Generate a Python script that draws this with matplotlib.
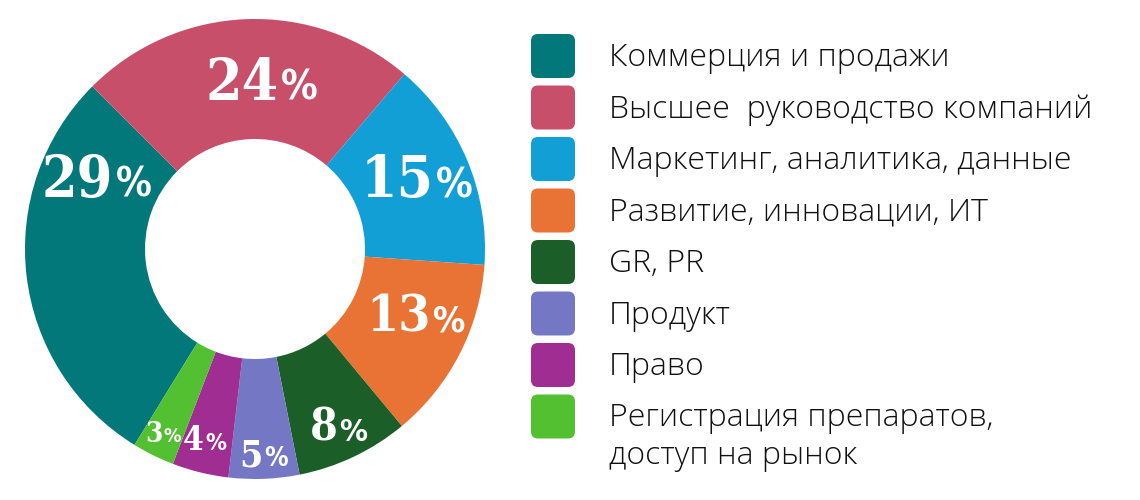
import matplotlib
matplotlib.use("Agg")
import matplotlib.pyplot as plt
from matplotlib.patches import FancyBboxPatch
from matplotlib.offsetbox import TextArea, HPacker, AnnotationBbox
import numpy as np

# ---- data ----
categories = [
    "Коммерция и продажи",
    "Высшее  руководство компаний",
    "Маркетинг, аналитика, данные",
    "Развитие, инновации, ИТ",
    "GR, PR",
    "Продукт",
    "Право",
    "Регистрация препаратов,\nдоступ на рынок",
]
values = [29, 24, 15, 13, 8, 5, 4, 3]
colors = ["#02787A", "#C84F69", "#129FD6", "#E87335", "#1C5E27", "#7478C4", "#9F2D92", "#52C030"]

# ---- label styling (positions relative to wedge) ----
label_sizes = [41, 42, 42, 37, 32, 27, 24, 20]
label_radius = [0.75, 0.72, 0.76, 0.76, 0.86, 0.90, 0.86, 0.90]
label_angle_adj = [-30, -4.5, 0, 4, -0.5, 0, -1, 0]

W, H, DPI = 1140, 500, 100
fig = plt.figure(figsize=(W / DPI, H / DPI), dpi=DPI)
fig.patch.set_facecolor("white")

cx, cy, R = 255, 249, 230
ax = fig.add_axes([(cx - R) / W, (H - cy - R) / H, 2 * R / W, 2 * R / H])
ax.set_aspect("equal")
inner = 110 / R
wedges, _ = ax.pie(values, colors=colors, startangle=238.4, counterclock=False,
                   radius=1, wedgeprops=dict(width=1 - inner, linewidth=0))
ax.set_xlim(-1, 1)
ax.set_ylim(-1, 1)
ax.axis("off")

for i, w in enumerate(wedges):
    mid = np.deg2rad((w.theta1 + w.theta2) / 2 + label_angle_adj[i])
    r = label_radius[i]
    x, y = r * np.cos(mid), r * np.sin(mid)
    s = label_sizes[i]
    num = TextArea(str(values[i]), textprops=dict(color="white", fontsize=s,
                   family="DejaVu Serif", weight="bold", stretch="condensed"))
    pct = TextArea("%", textprops=dict(color="white", fontsize=s * 0.70,
                   family="DejaVu Sans", weight="bold", stretch="condensed"))
    box = HPacker(children=[num, pct], align="baseline", pad=0, sep=s * 0.04)
    ab = AnnotationBbox(box, (x, y), xycoords="data", frameon=False,
                        box_alignment=(0.5, 0.5), pad=0)
    ax.add_artist(ab)

# ---- legend ----
lax = fig.add_axes([0, 0, 1, 1])
lax.set_xlim(0, W)
lax.set_ylim(H, 0)
lax.axis("off")
sq_x, sq_w, sq_h = 531, 44, 44
row0, pitch = 56, 51.5
text_x = 609
line_gap = 38
for i, (lab, c) in enumerate(zip(categories, colors)):
    yc = row0 + i * pitch
    p = FancyBboxPatch((sq_x, yc - sq_h / 2), sq_w, sq_h,
                       boxstyle="round,pad=0,rounding_size=7",
                       facecolor=c, edgecolor="none")
    lax.add_patch(p)
    for j, ln in enumerate(lab.split("\n")):
        lax.text(text_x, yc + 2 + j * line_gap, ln, ha="left", va="center",
                 fontsize=23, family="Open Sans", weight="light", color="#111111")

fig.savefig("out.png", dpi=DPI, facecolor="white")
